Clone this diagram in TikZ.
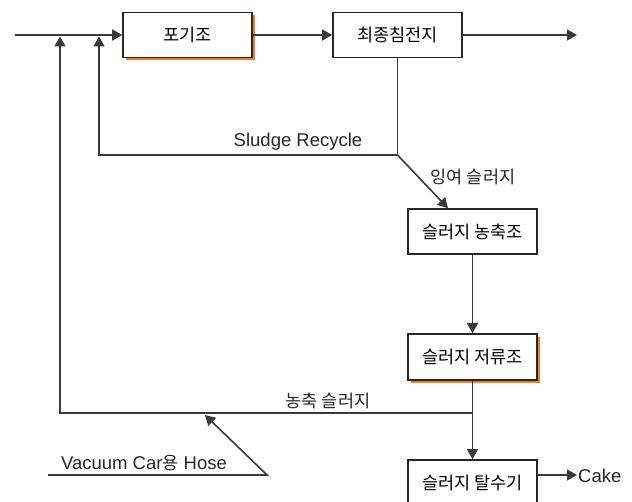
\documentclass[tikz,border=0pt]{standalone}
\usepackage{fontspec}
\setmainfont{Liberation Sans}
\newfontfamily\hangul{Noto Sans CJK KR}
\usetikzlibrary{arrows.meta,shadows}
\definecolor{lin}{HTML}{3A3A3A}
\definecolor{orsh}{HTML}{F47B20}
\newcommand\K[1]{{\hangul\fontsize{17.5}{19}\selectfont #1}}
\newcommand\Lt[1]{{\fontsize{18.5}{20}\selectfont #1}}
\begin{document}
\begin{tikzpicture}[x=1pt,y=-1pt,
  box/.style={draw=black!85, line width=1.6pt, fill=white, minimum width=129pt, minimum height=45pt, inner sep=0pt},
  orshadow/.style={drop shadow={shadow xshift=3pt, shadow yshift=-3pt, fill=orsh, opacity=1}},
  arr/.style={draw=lin, line width=1.6pt, -{Triangle[length=10pt,width=11pt]}},
  ln/.style={draw=lin, line width=1.6pt},
  lbl/.style={inner sep=0pt, text=black!85}]
\clip (0,0) rectangle (632,502);
\fill[white] (0,0) rectangle (632,502);

\node[box,orshadow] (aer) at (187.5,35) {\K{포기조}};
\node[box] (fin) at (397.5,35) {\K{최종침전지}};
\node[box] (thk) at (472.5,231.5) {\K{슬러지 농축조}};
\node[box,orshadow,minimum height=46pt] (sto) at (472.5,357) {\K{슬러지 저류조}};
\node[box,minimum height=46pt] (dew) at (472.5,483) {\K{슬러지 탈수기}};

\coordinate (in) at (15,35);
\coordinate (out) at (577,35);
\coordinate (r1) at (99,36.5);
\coordinate (r2) at (60,36.5);
\coordinate (rj) at (fin.south |- 0,155);
\coordinate (cj) at (sto.south |- 0,413);
\coordinate (h0) at (48,475);
\coordinate (h1) at (267,475);
\coordinate (ht) at (205,415);
\coordinate (ck) at (577,475);

\draw[arr] (in) -- (aer.west);
\draw[arr] (aer.east) -- (fin.west);
\draw[arr] (fin.east) -- (out);
\draw[ln] (fin.south) -- (rj);
\draw[arr] (rj) -| (r1);
\draw[arr] (rj) -- (thk.north -| 448,0);
\draw[arr] (thk.south) -- (sto.north);
\draw[arr] (sto.south) -- (dew.north);
\draw[arr] (cj) -| (r2);
\draw[arr] (h0) -- (h1) -- (ht);
\draw[arr] (dew.east |- ck) -- (ck);

\node[lbl] (lsr) at (298,142) {\Lt{Sludge Recycle}};
\node[lbl] (lex) at (473,177) {\K{잉여 슬러지}};
\node[lbl] (lth) at (328,401) {\K{농축 슬러지}};
\node[lbl] (lvh) at (144,463) {\Lt{Vacuum Car}\K{용}\Lt{ Hose}};
\node[lbl,anchor=west] (lck) at (578,476) {\Lt{Cake}};
\end{tikzpicture}
\end{document}
